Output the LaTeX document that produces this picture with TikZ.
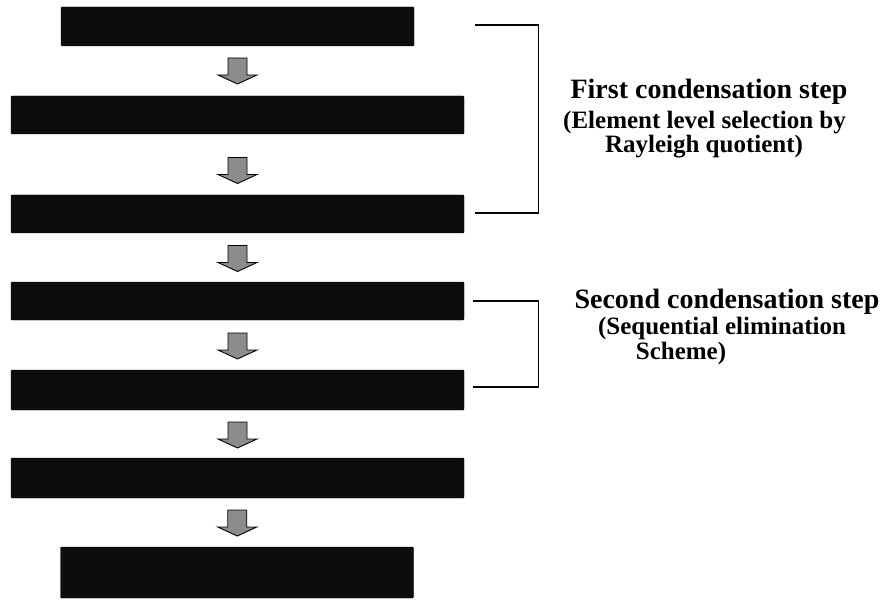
\documentclass[tikz,border=0pt]{standalone}
\usepackage{fontspec}
\setmainfont{Liberation Serif}
\usetikzlibrary{calc}
\definecolor{barfill}{HTML}{0D0D0D}
\definecolor{arrowfill}{HTML}{8C8C8C}
\tikzset{
  bar/.style={draw=black, fill=barfill, inner sep=0pt, rounded corners=1pt},
  widebar/.style={bar, minimum width=453pt},
  narrowbar/.style={bar, minimum width=353pt},
  blockarrow/.style={draw=black, line width=0.9pt, fill=arrowfill, line join=miter},
  bracket/.style={draw=black, line width=1.3pt},
  headline/.style={font=\bfseries\fontsize{28}{30}\selectfont, anchor=base, inner sep=0pt},
  subline/.style={font=\bfseries\fontsize{25}{27}\selectfont, anchor=base, inner sep=0pt},
}
% block arrow placed in the gap between the bottom of #1 and the top of #2,
% moved down by #3
\newcommand\downblock[3]{%
  \coordinate (mid) at ($(#1.south)!0.5!(#2.north)+(0,#3)$);
  \draw[blockarrow] ($(mid)+(-9.5,-13)$) -- ($(mid)+(9.5,-13)$)
    -- ($(mid)+(9.5,4)$) -- ($(mid)+(19.5,4)$) -- ($(mid)+(0,13)$)
    -- ($(mid)+(-19.5,4)$) -- ($(mid)+(-9.5,4)$) -- cycle;}
\begin{document}
\begin{tikzpicture}[x=1pt, y=-1pt]
\useasboundingbox (0,0) rectangle (882,601);

% the chain of bars
\node[narrowbar, minimum height=39pt] (b1) at (237.5,26.5) {};
\node[widebar,   minimum height=38pt] (b2) at (237.5,115) {};
\node[widebar,   minimum height=38pt] (b3) at (237.5,214) {};
\node[widebar,   minimum height=38pt] (b4) at (237.5,301) {};
\node[widebar,   minimum height=40pt] (b5) at (237.5,390) {};
\node[widebar,   minimum height=40pt] (b6) at (237.5,478) {};
\node[narrowbar, minimum height=51pt] (b7) at (237,572.5) {};

% arrows between successive bars
\downblock{b1}{b2}{0}
\downblock{b2}{b3}{6}
\downblock{b3}{b4}{1}
\downblock{b4}{b5}{1}
\downblock{b5}{b6}{1}
\downblock{b6}{b7}{0.5}

% brackets grouping the two condensation steps
\coordinate (k1) at ([xshift=11pt,yshift=1.5pt]b1.east -| b3.east);
\draw[bracket] (k1) -- ++(63,0) |- ([xshift=11pt,yshift=1pt]b3.east);
\draw[bracket] ([xshift=9pt]b4.east) -- ++(65,0) |- ([xshift=9pt,yshift=3pt]b5.east);

% labels
\node[headline] (h1) at (709,99) {First condensation step};
\node[subline]  (h1a) at (704.5,129) {(Element level selection by};
\node[subline]  (h1b) at (704,153) {Rayleigh quotient)};

\node[headline] (h2) at (727,308) {Second condensation step};
\node[subline]  (h2a) at (722,334) {(Sequential elimination};
\node[subline]  (h2b) at (681,359) {Scheme)};
\end{tikzpicture}
\end{document}
